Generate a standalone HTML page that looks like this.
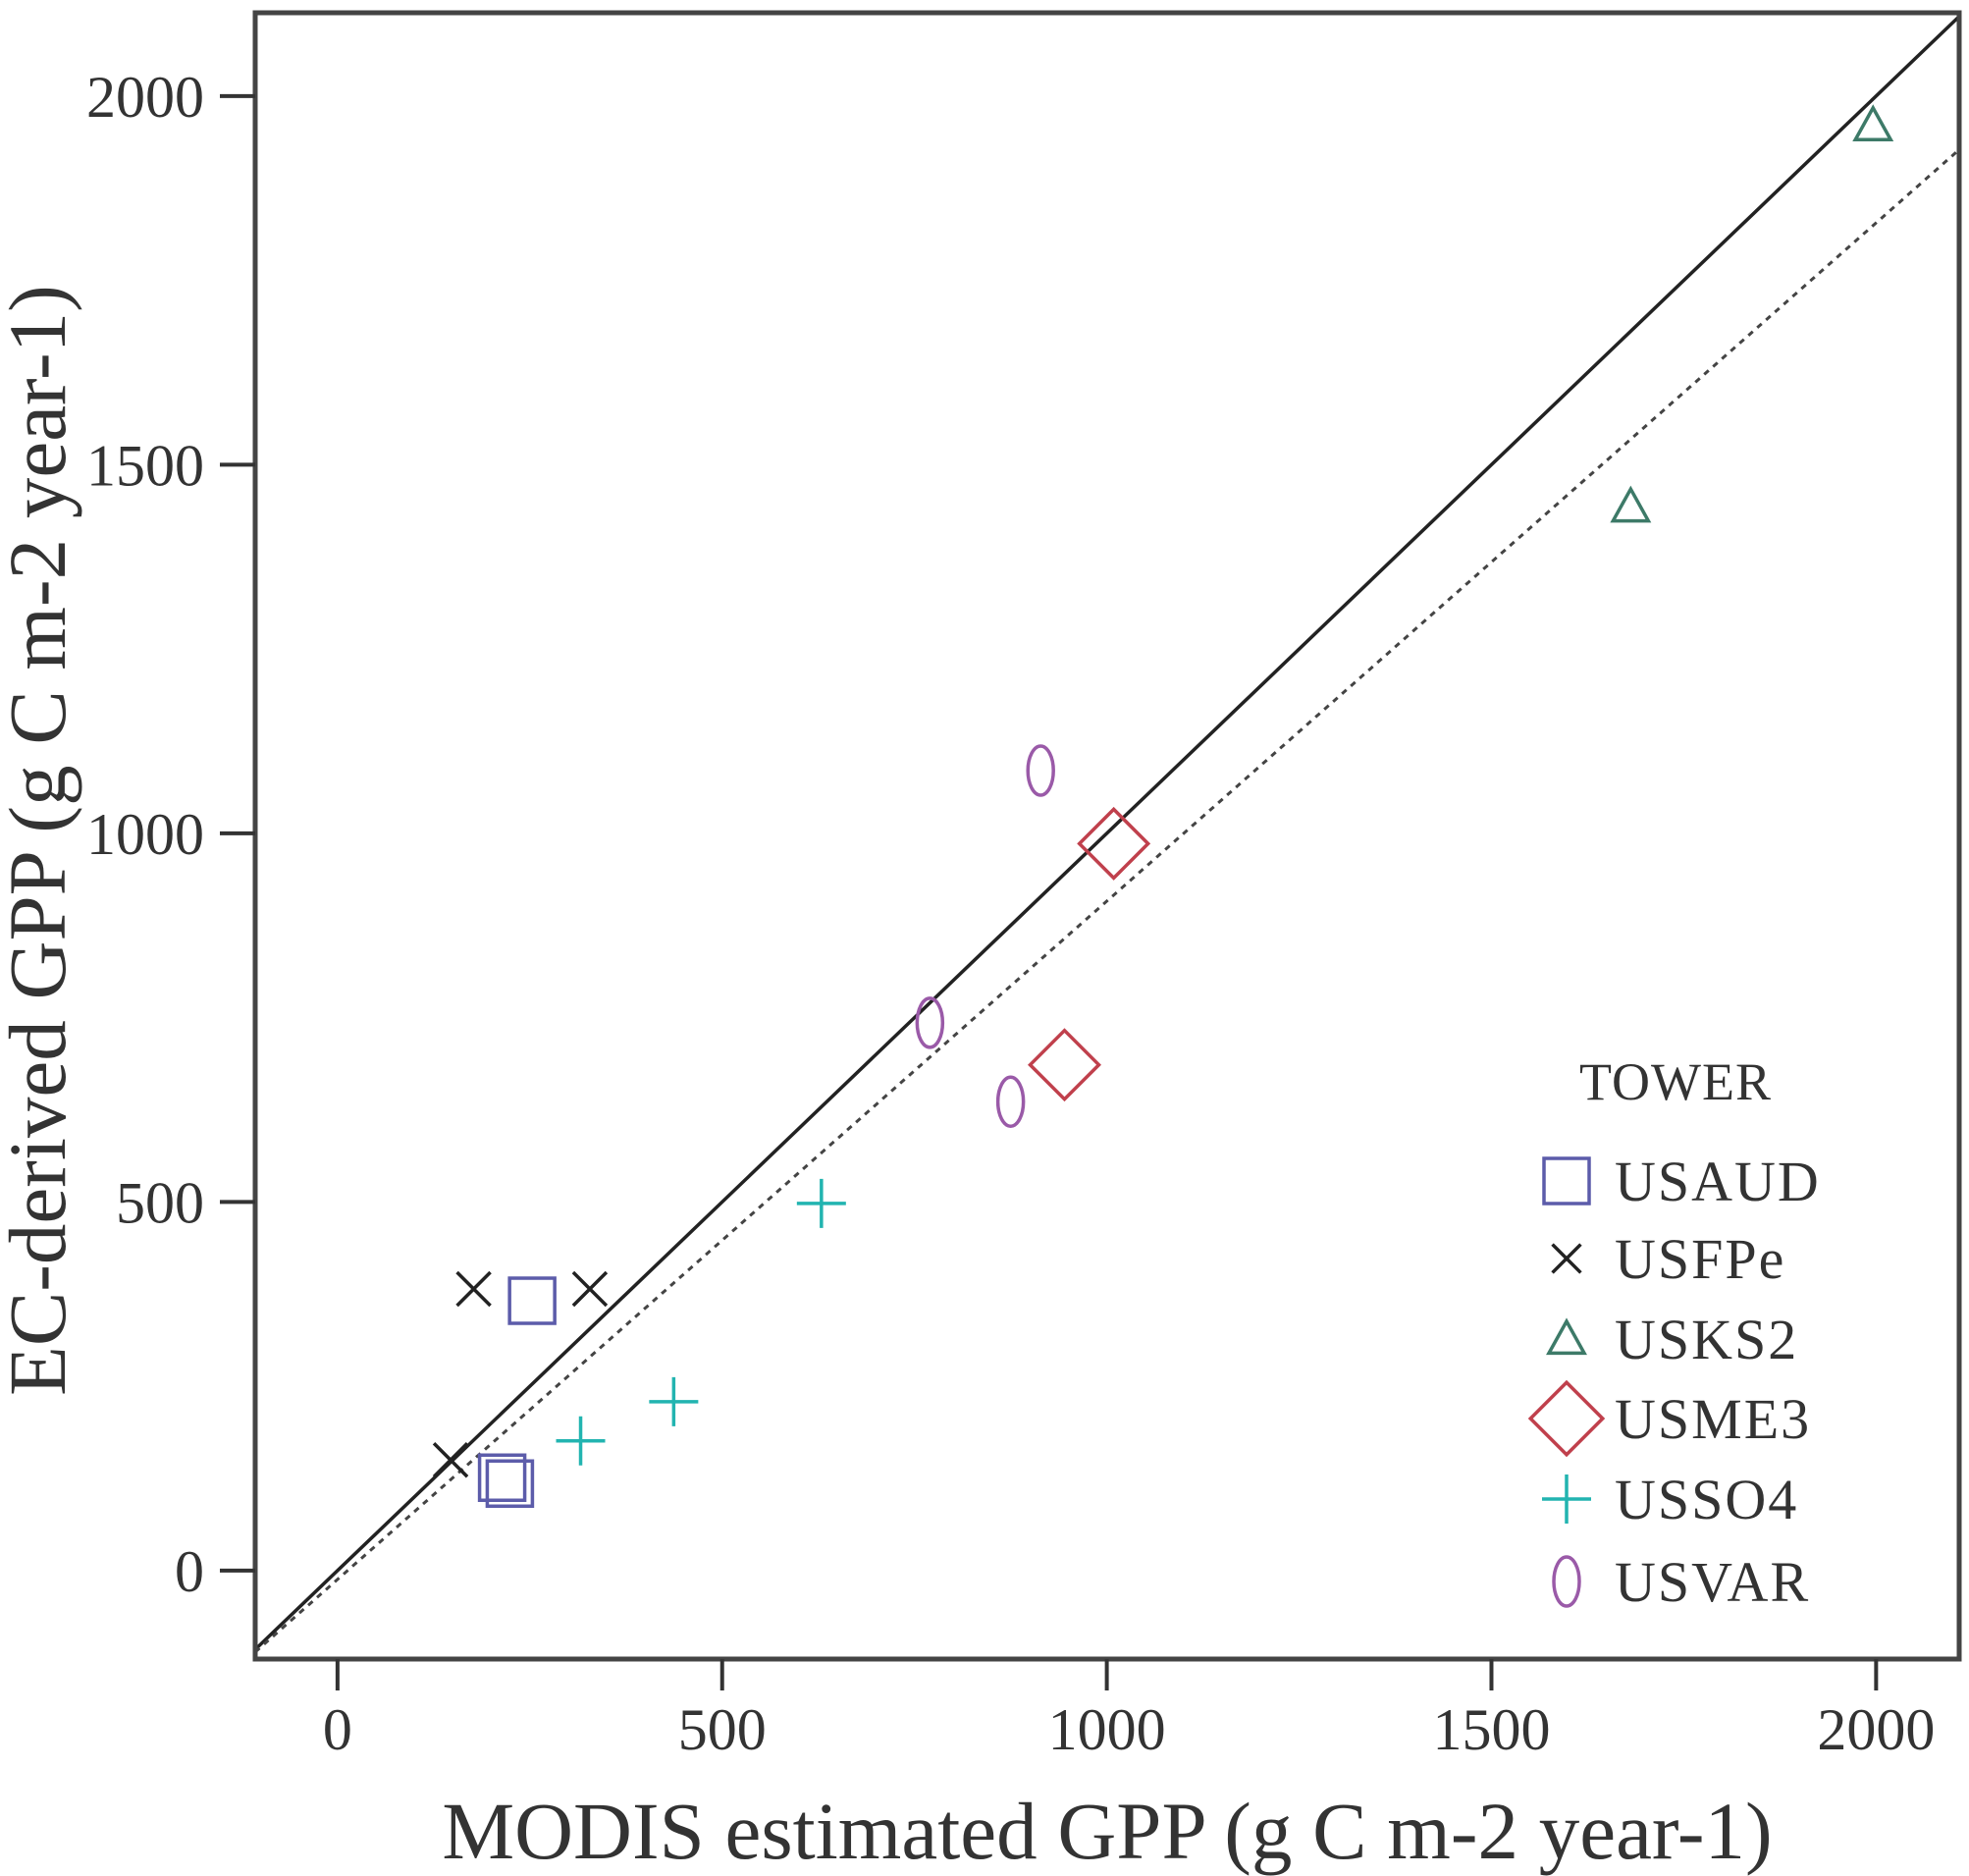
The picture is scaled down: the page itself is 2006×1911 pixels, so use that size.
<!DOCTYPE html>
<html><head><meta charset="utf-8"><style>
html,body{margin:0;padding:0;background:#fff;}
svg{display:block;}
text{font-family:"Liberation Serif",serif;fill:#333;}
</style></head><body>
<svg id="chart" width="2006" height="1911" viewBox="0 0 2006 1911" xmlns="http://www.w3.org/2000/svg">
<g id="plot"></g>
</svg>
<script>
const towers = ["USAUD","USFPe","USKS2","USME3","USSO4","USVAR"];
const audX = [253, 214, 224];
const audY = [366, 126, 118];
const fpeX = [177, 328, 147];
const fpeY = [382, 382, 150];
const ks2X = [1996, 1681];
const ks2Y = [1960, 1443];
const me3X = [1009, 945];
const me3Y = [986, 686];
const so4X = [629, 437, 316];
const so4Y = [498, 229, 176];
const varX = [914, 770, 875];
const varY = [1085, 743, 636];
const xTicks = [0, 500, 1000, 1500, 2000];
const yTicks = [0, 500, 1000, 1500, 2000];
const fitIntercept = -12;
const fitSlope = 0.92;

const L=260, R=1996, T=13, B=1690;
const xMin=-107, xMax=2108, yMin=-120, yMax=2113;
const sx = v => L + (v - xMin) / (xMax - xMin) * (R - L);
const sy = v => B - (v - yMin) / (yMax - yMin) * (B - T);
const NS="http://www.w3.org/2000/svg";
const svg=document.getElementById('chart');
const plot=document.getElementById('plot');
function mk(tag, attrs, parent){
  const e=document.createElementNS(NS,tag);
  for(const k in attrs) e.setAttribute(k, attrs[k]);
  (parent||svg).appendChild(e);
  return e;
}
const defs=mk('defs',{});
const cp=mk('clipPath',{id:'clip'},defs);
mk('rect',{x:L,y:T,width:R-L,height:B-T},cp);
const lines=mk('g',{'clip-path':'url(#clip)'},plot);


const idl=mk('line',{x1:sx(xMin),y1:sy(xMin),x2:sx(xMax),y2:sy(xMax),stroke:'#222','stroke-width':3.5},lines);


const fl=mk('line',{x1:sx(xMin),y1:sy(fitIntercept+fitSlope*xMin),x2:sx(xMax),y2:sy(fitIntercept+fitSlope*xMax),stroke:'#444','stroke-width':3,'stroke-dasharray':'6 6'},lines);



function marker(type,cx,cy,scale,parent){
  const s=scale||1;
  const g=mk('g',{},parent);
  if(type==='USAUD'){ mk('rect',{x:cx-23*s,y:cy-23*s,width:46*s,height:46*s,fill:'none',stroke:'#5c5caa','stroke-width':3.5},g); }
  else if(type==='USFPe'){ const a=17*s; mk('path',{d:`M${cx-a} ${cy-a}L${cx+a} ${cy+a}M${cx-a} ${cy+a}L${cx+a} ${cy-a}`,stroke:'#222','stroke-width':3.5,fill:'none'},g); }
  else if(type==='USKS2'){ const a=18*s; mk('path',{d:`M${cx} ${cy-a}L${cx+a} ${cy+a*0.8}L${cx-a} ${cy+a*0.8}Z`,stroke:'#3d7a68','stroke-width':3.5,fill:'none'},g); }
  else if(type==='USME3'){ const a=35*s; mk('path',{d:`M${cx} ${cy-a}L${cx+a} ${cy}L${cx} ${cy+a}L${cx-a} ${cy}Z`,stroke:'#c0404c','stroke-width':3.5,fill:'none'},g); }
  else if(type==='USSO4'){ const a=25*s; mk('path',{d:`M${cx-a} ${cy}L${cx+a} ${cy}M${cx} ${cy-a}L${cx} ${cy+a}`,stroke:'#22b4b0','stroke-width':3.5,fill:'none'},g); }
  else if(type==='USVAR'){ mk('ellipse',{cx:cx,cy:cy,rx:13*s,ry:25*s,fill:'none',stroke:'#9a5aa8','stroke-width':3.5},g); }
  return g;
}
const series=[["USAUD",audX,audY],["USFPe",fpeX,fpeY],["USKS2",ks2X,ks2Y],["USME3",me3X,me3Y],["USSO4",so4X,so4Y],["USVAR",varX,varY]];
series.forEach(([name,xs,ys])=>{
  xs.forEach((v,i)=>{
    const m=marker(name,sx(v),sy(ys[i]),1,plot);
    
    
  });
});

const fr=mk('rect',{x:L,y:T,width:R-L,height:B-T,fill:'none',stroke:'#444','stroke-width':5});



xTicks.forEach(t=>{
  const x=sx(t);
  const tk=mk('line',{x1:x,y1:B,x2:x,y2:B+32,stroke:'#333','stroke-width':4});
  
  
  const tx=mk('text',{x:x,y:1782,'font-size':60,'text-anchor':'middle'});
  tx.textContent=t;
  
  
});
yTicks.forEach(t=>{
  const y=sy(t);
  const tk=mk('line',{x1:L,y1:y,x2:L-36,y2:y,stroke:'#333','stroke-width':4});
  
  
  const tx=mk('text',{x:208,y:y+21,'font-size':60,'text-anchor':'end'});
  tx.textContent=t;
  
  
});

const xt=mk('text',{x:1128,y:1893,'font-size':83,'text-anchor':'middle',fill:'#111'});
xt.textContent='MODIS estimated GPP (g C m-2 year-1)';


const yt=mk('text',{x:0,y:0,'font-size':83,'text-anchor':'middle',fill:'#111',transform:'translate(66,856) rotate(-90)'});
yt.textContent='EC-derived GPP (g C m-2 year-1)';



const lg=mk('g',{});


const lt=mk('text',{x:1707,y:1120,'font-size':54,'text-anchor':'middle','letter-spacing':1},lg);
lt.textContent='TOWER';


const rowsY=[1203,1282,1364,1445,1527,1611];
towers.forEach((name,i)=>{
  const g=mk('g',{},lg);
  
  
  marker(name,1596,rowsY[i],name==='USFPe'?0.85:(name==='USME3'?1.05:1),g);
  const t=mk('text',{x:1645,y:rowsY[i]+20,'font-size':58,'letter-spacing':2,fill:'#444'},g);
  t.textContent=name;
});
</script>
</body></html>
